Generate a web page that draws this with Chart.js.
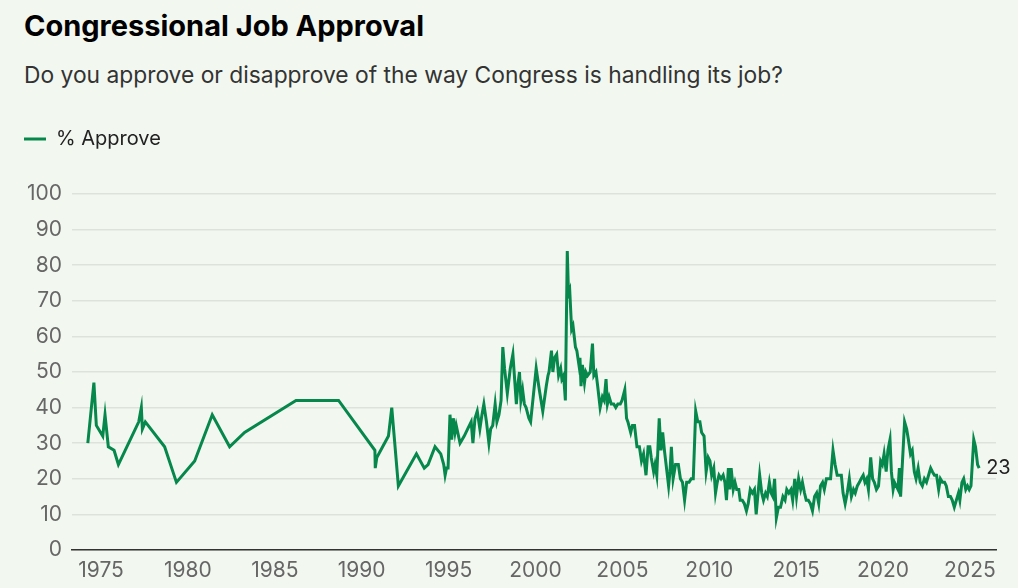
<!DOCTYPE html>
<html>
<head>
<meta charset="utf-8">
<title>Congressional Job Approval</title>
<script src="https://cdn.jsdelivr.net/npm/chart.js@4.4.1/dist/chart.umd.min.js"></script>
<style>
  body { margin: 0; background: #f2f8f0; font-family: Inter, "Noto Sans", sans-serif; }
  #wrap { position: relative; width: 1018px; height: 588px; overflow: hidden; }
  #title { position: absolute; left: 24px; top: 8px; margin: 0; font-size: 29px; font-weight: 700; color: #000; }
  #sub { position: absolute; left: 24px; top: 61px; margin: 0; font-size: 22.8px; color: #333; }
  #grafo { position: absolute; left: 0; top: 0; width: 1018px; height: 588px; }
</style>
</head>
<body>
<div id="wrap">
  <h1 id="title">Congressional Job Approval</h1>
  <p id="sub">Do you approve or disapprove of the way Congress is handling its job?</p>
  <div id="grafo"><canvas id="aprovacao" width="1018" height="588"></canvas></div>
</div>
<script>
// decimal year of each poll
const anos = [
  1974.24, 1974.59, 1974.73, 1975.10, 1975.23, 1975.42, 1975.75, 1976.00, 1977.17, 1977.32,
  1977.38, 1977.55, 1978.66, 1979.34, 1980.39, 1981.40, 1982.40, 1983.26, 1986.22, 1988.67,
  1990.76, 1990.78, 1990.87, 1991.54, 1991.73, 1992.11, 1993.15, 1993.60, 1993.82, 1994.22,
  1994.55, 1994.72, 1994.80, 1994.88, 1994.97, 1995.08, 1995.18, 1995.27, 1995.37, 1995.44,
  1995.66, 1995.90, 1996.10, 1996.30, 1996.40, 1996.52, 1996.65, 1996.80, 1996.92, 1997.03,
  1997.18, 1997.32, 1997.42, 1997.54, 1997.68, 1997.78, 1997.90, 1998.02, 1998.12, 1998.22,
  1998.38, 1998.55, 1998.70, 1998.80, 1998.90, 1999.00, 1999.08, 1999.16, 1999.26, 1999.36,
  1999.46, 1999.62, 1999.72, 2000.04, 2000.22, 2000.42, 2000.62, 2000.72, 2000.78, 2000.92,
  2001.00, 2001.10, 2001.22, 2001.33, 2001.45, 2001.52, 2001.62, 2001.72, 2001.83, 2001.90,
  2001.97, 2002.08, 2002.16, 2002.30, 2002.38, 2002.50, 2002.56, 2002.62, 2002.70, 2002.82,
  2002.90, 2003.00, 2003.15, 2003.28, 2003.36, 2003.48, 2003.58, 2003.72, 2003.85, 2003.95,
  2004.06, 2004.14, 2004.24, 2004.36, 2004.50, 2004.62, 2004.74, 2004.88, 2004.98, 2005.14,
  2005.24, 2005.32, 2005.48, 2005.58, 2005.70, 2005.84, 2005.98, 2006.10, 2006.22, 2006.36,
  2006.48, 2006.58, 2006.66, 2006.80, 2006.88, 2006.98, 2007.12, 2007.22, 2007.32, 2007.42,
  2007.54, 2007.66, 2007.74, 2007.82, 2007.92, 2008.06, 2008.22, 2008.34, 2008.46, 2008.58,
  2008.70, 2008.84, 2008.96, 2009.08, 2009.22, 2009.34, 2009.46, 2009.56, 2009.70, 2009.82,
  2009.94, 2010.04, 2010.14, 2010.26, 2010.36, 2010.46, 2010.56, 2010.68, 2010.80, 2010.90,
  2010.99, 2011.10, 2011.18, 2011.26, 2011.38, 2011.48, 2011.58, 2011.70, 2011.78, 2011.90,
  2012.02, 2012.14, 2012.24, 2012.36, 2012.48, 2012.60, 2012.70, 2012.90, 2013.02, 2013.12,
  2013.24, 2013.34, 2013.46, 2013.56, 2013.66, 2013.76, 2013.86, 2013.98, 2014.10, 2014.24,
  2014.36, 2014.46, 2014.58, 2014.70, 2014.80, 2014.92, 2015.02, 2015.14, 2015.26, 2015.36,
  2015.48, 2015.58, 2015.70, 2015.82, 2015.94, 2016.06, 2016.18, 2016.30, 2016.40, 2016.52,
  2016.62, 2016.74, 2016.86, 2016.98, 2017.12, 2017.24, 2017.36, 2017.48, 2017.60, 2017.70,
  2017.82, 2017.94, 2018.06, 2018.18, 2018.30, 2018.40, 2018.52, 2018.64, 2018.74, 2018.86,
  2018.96, 2019.06, 2019.16, 2019.29, 2019.40, 2019.50, 2019.62, 2019.74, 2019.86, 2019.96,
  2020.06, 2020.18, 2020.28, 2020.40, 2020.48, 2020.58, 2020.66, 2020.76, 2020.86, 2020.94,
  2021.01, 2021.12, 2021.24, 2021.36, 2021.46, 2021.58, 2021.68, 2021.80, 2021.90, 2022.02,
  2022.14, 2022.26, 2022.38, 2022.50, 2022.62, 2022.74, 2022.84, 2022.96, 2023.08, 2023.20,
  2023.30, 2023.42, 2023.54, 2023.64, 2023.76, 2023.88, 2023.98, 2024.10, 2024.22, 2024.34,
  2024.42, 2024.54, 2024.64, 2024.76, 2024.86, 2024.96, 2025.06, 2025.22, 2025.32, 2025.44,
  2025.53
]

// % approve
const aprovam = [
  30, 47, 35, 32, 38, 29, 28, 24, 36, 40,
  34, 36, 29, 19, 25, 38, 29, 33, 42, 42,
  28, 23, 26, 32, 40, 18, 27, 23, 24, 29,
  27, 24, 21, 23, 23, 38, 31, 37, 33, 35,
  30, 32, 34, 36, 30, 37, 39, 34, 38, 41,
  36, 30, 34, 35, 41, 36, 38, 42, 57, 51,
  44, 51, 55, 48, 41, 47, 50, 42, 45, 41,
  40, 37, 36, 51, 45, 39, 46, 49, 50, 56,
  50, 54, 55, 49, 51, 48, 49, 42, 84, 72,
  73, 62, 63, 57, 56, 52, 54, 46, 52, 47,
  50, 49, 50, 58, 49, 50, 46, 40, 43, 42,
  48, 41, 43, 41, 41, 40, 41, 41, 42, 45,
  37, 36, 33, 35, 35, 29, 29, 25, 27, 21,
  29, 29, 26, 22, 24, 21, 37, 28, 33, 28,
  23, 18, 22, 29, 20, 24, 24, 20, 19, 14,
  19, 19, 20, 20, 39, 36, 36, 33, 32, 22,
  26, 25, 21, 23, 16, 19, 21, 20, 21, 19,
  14, 23, 17, 23, 17, 19, 17, 17, 14, 14,
  13, 11, 13, 17, 16, 17, 10, 21, 16, 14,
  16, 15, 19, 16, 15, 20, 9, 12, 12, 15,
  14, 17, 16, 17, 14, 20, 15, 20, 17, 19,
  16, 14, 14, 13, 11, 15, 16, 13, 18, 19,
  17, 20, 20, 20, 28, 24, 21, 21, 21, 16,
  13, 16, 20, 15, 17, 16, 18, 19, 20, 21,
  19, 20, 17, 26, 20, 19, 17, 18, 25, 24,
  27, 22, 28, 31, 22, 17, 19, 18, 17, 23,
  15, 25, 36, 34, 31, 27, 28, 22, 20, 23,
  19, 18, 20, 19, 21, 23, 22, 21, 21, 17,
  20, 19, 19, 18, 15, 15, 14, 12, 14, 16,
  14, 19, 20, 17, 18, 17, 18, 31, 29, 24,
  23
]

const anosEixo = [1975, 1980, 1985, 1990, 1995, 2000, 2005, 2010, 2015, 2020, 2025]

const verde = '#06874b'

const pontos = anos.map((a, i) => ({x: a, y: aprovam[i]}))

// extra room between legend and plot
const margemLegenda = {
  id: 'margemLegenda',
  beforeInit(chart){
    const fit = chart.legend.fit
    chart.legend.fit = function(){
      fit.bind(chart.legend)()
      this.height += 35
    }
  }
}

// value at the end of the line
const rotuloFinal = {
  id: 'rotuloFinal',
  afterDatasetsDraw(chart){
    const meta = chart.getDatasetMeta(0)
    const p = meta.data[meta.data.length - 1]
    const ctx = chart.ctx
    ctx.save()
    ctx.font = '20px Inter, "Noto Sans", sans-serif'
    ctx.fillStyle = '#222'
    ctx.textAlign = 'left'
    ctx.textBaseline = 'middle'
    ctx.fillText(String(aprovam[aprovam.length - 1]), p.x + 7, p.y)
    ctx.restore()
  }
}

Chart.defaults.font.family = 'Inter, "Noto Sans", sans-serif'

new Chart(document.getElementById('aprovacao'), {
  type: 'line',
  data: {
    datasets: [
      {
        label: '% Approve',
        data: pontos,
        borderColor: verde,
        backgroundColor: verde,
        borderWidth: 3,
        pointRadius: 0,
        tension: 0
      }
    ]
  },
  options: {
    responsive: false,
    animation: false,
    layout: { padding: { top: 119, left: 14, right: 22, bottom: 0 } },
    plugins: {
      legend: {
        align: 'start',
        labels: {
          usePointStyle: true,
          pointStyle: 'line',
          pointStyleWidth: 22,
          color: '#222',
          font: { size: 20 },
          padding: 10
        }
      },
      tooltip: { enabled: false }
    },
    scales: {
      x: {
        type: 'linear',
        min: 1973.33,
        max: 2026.5,
        afterBuildTicks(scale){
          scale.ticks = anosEixo.map(v => ({value: v}))
        },
        afterFit(scale){
          scale.height = 38
        },
        ticks: {
          callback: v => String(v),
          color: '#666',
          font: { size: 21 },
          padding: 8,
          maxRotation: 0,
          autoSkip: false
        },
        grid: { display: false, drawTicks: false },
        border: { color: '#333', width: 1.5 }
      },
      y: {
        min: 0,
        max: 100,
        afterFit(scale){
          scale.width = 58
        },
        ticks: { stepSize: 10, color: '#666', font: { size: 21 }, padding: 10 },
        grid: { color: '#dde2da', lineWidth: 1.5, drawTicks: false },
        border: { display: false }
      }
    }
  },
  plugins: [margemLegenda, rotuloFinal]
})
</script>
</body>
</html>
